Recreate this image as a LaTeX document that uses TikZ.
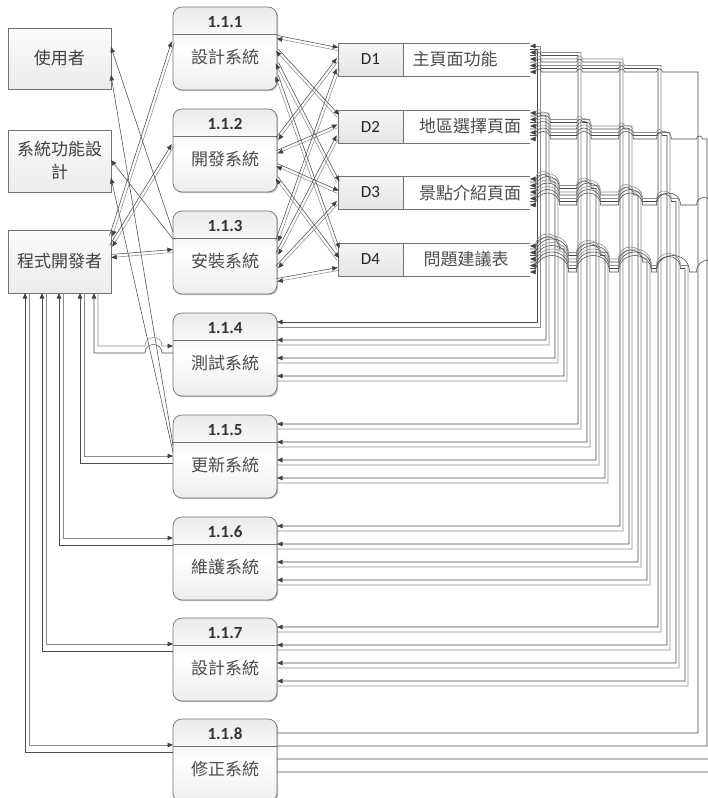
\documentclass[tikz,border=0pt]{standalone}
\usepackage{fontspec}
\setmainfont{Carlito}
\newfontfamily\cjk{Noto Sans CJK TC}
\usetikzlibrary{arrows.meta,calc,shadows}
\begin{document}
\begin{tikzpicture}[x=1pt,y=-1pt,
  >={Triangle[length=5.5pt,width=4.5pt,color=black!75]},
  ln/.style={draw=black!70,line width=0.55pt},
  lnb/.style={draw=black!45,line width=0.55pt},
  shd/.style={drop shadow={shadow xshift=1.2pt,shadow yshift=-1.2pt,opacity=0.25,fill=black}},
  entity/.style={shd,draw=black!55,line width=0.7pt,top color=gray!3,bottom color=gray!15,minimum width=103pt,minimum height=61pt,anchor=north west,inner sep=0pt,outer sep=0pt,align=center,font=\cjk\fontsize{17}{23}\selectfont,text=black!75},
  proc/.style={shd,draw=black!55,line width=0.7pt,rounded corners=9pt,top color=gray!16,bottom color=gray!14,middle color=white,minimum width=104pt,minimum height=83pt,anchor=north west,inner sep=0pt,outer sep=0pt},
  pnum/.style={font=\bfseries\fontsize{17}{17}\selectfont,text=black!80,inner sep=0pt},
  ptxt/.style={font=\cjk\fontsize{17}{17}\selectfont,text=black!70,inner sep=0pt},
  store/.style={minimum width=192pt,minimum height=33pt,anchor=north west,inner sep=0pt,outer sep=0pt},
  sid/.style={draw=black!55,line width=0.7pt,top color=gray!8,bottom color=gray!20,minimum width=65pt,minimum height=33pt,anchor=north west,inner sep=0pt,outer sep=0pt,font=\fontsize{17}{17}\selectfont,text=black!85},
  stxt/.style={font=\cjk\fontsize{17}{17}\selectfont,text=black!70,inner sep=0pt},
  sedge/.style={draw=black!55,line width=0.7pt}
]
\useasboundingbox (0,0) rectangle (708,798);
\clip (0,0) rectangle (708,798);
\fill[white] (0,0) rectangle (708,798);

% external entities
\node[entity] (user) at (8,28) {使用者};
\node[entity,minimum height=62pt] (sys) at (8,130) {系統功能設\\計};
\node[entity,minimum height=63pt] (dev) at (8,230) {程式開發者};

% processes
\foreach \i/\y/\lbl in {1/7/設計系統, 2/109/開發系統, 3/211/安裝系統, 4/313/測試系統, 5/415/更新系統, 6/517/維護系統, 7/618/設計系統, 8/719/修正系統}{
  \node[proc] (p\i) at (173,\y) {};
  \draw[sedge] ($(p\i.north west)+(0,27)$) -- ($(p\i.north east)+(0,27)$);
  \node[pnum] (n\i) at ($(p\i.north)+(0,15)$) {1.1.\i};
  \node[ptxt] (t\i) at ($(p\i.north)+(0,50)$) {\lbl};
}

% data stores
\foreach \j/\y/\lbl/\lx in {1/43/主頁面功能/455, 2/110/地區選擇頁面/470, 3/176/景點介紹頁面/470, 4/243/問題建議表/466}{
  \node[store] (s\j) at (338,\y) {};
  \fill[white] (s\j.north west) rectangle (s\j.south east);
  \node[sid] (d\j) at (s\j.north west) {D\j};
  \draw[sedge] (s\j.north east) -- (s\j.north west) -- (s\j.south west) -- (s\j.south east);
  \node[stxt] (l\j) at (\lx,\y+16.5) {\lbl};
}

% processes 1.1.1-1.1.3 <-> data stores
\foreach \k in {1,2,3}{\foreach \j in {1,...,4}{
  \coordinate (pa) at ($(p\k.north east)+(0,{30+(\j-1)*13})$);
  \coordinate (pb) at ($(s\j.north west)+(0,{6+(\k-1)*10})$);
  \draw[ln,->] ($(pa)!1.5pt!90:(pb)$) -- ($(pb)!1.5pt!-90:(pa)$);
  \draw[lnb,<-] ($(pa)!1.5pt!-90:(pb)$) -- ($(pb)!1.5pt!90:(pa)$);
}}

% developer <-> 1.1.1-1.1.3
\foreach \k/\da/\po in {1/6/35, 2/16/36, 3/26/40}{
  \coordinate (pa) at ($(dev.north east)+(0,\da)$);
  \coordinate (pb) at ($(p\k.north west)+(0,\po)$);
  \draw[ln,->] ($(pa)!1.5pt!90:(pb)$) -- ($(pb)!1.5pt!-90:(pa)$);
  \draw[lnb,<-] ($(pa)!1.5pt!-90:(pb)$) -- ($(pb)!1.5pt!90:(pa)$);
}

% outputs to user / system designer
\draw[ln,->] ($(p3.north west)+(0,21)$) -- ($(user.north east)+(0,19)$);
\draw[ln,->] ($(p3.north west)+(0,28)$) -- ($(sys.north east)+(0,30)$);
\draw[ln,->] ($(p5.north west)+(0,30)$) -- ($(user.north east)+(0,47)$);
\draw[ln,->] ($(p5.north west)+(0,37)$) -- ($(sys.north east)+(0,48)$);

% developer <-> 1.1.4-1.1.8
\draw[lnb,->] ($(dev.south west)+(90,0)$) -- (98,346) -- (145,346) .. controls (145,334.7) and (162,334.7) .. (162,346) -- ($(p4.north west)+(0,33)$);
\draw[ln,<-] ($(dev.south west)+(86,0)$) -- (94,353) -- (145,353) .. controls (145,341.7) and (162,341.7) .. (162,353) -- ($(p4.north west)+(0,40)$);
\foreach \k/\ux/\dd in {5/80/41, 6/59/21, 7/42/26, 8/25/26}{
  \draw[lnb,->] ($(dev.south west)+(\ux-4,0)$) |- ($(p\k.north west)+(0,\dd)$);
  \draw[ln,<-] ($(dev.south west)+(\ux-8,0)$) |- ($(p\k.north west)+(0,\dd+7)$);
}

% data stores <-> 1.1.4-1.1.8 (right side bus with line jumps)
\def\BX{{537,578,620,658,698}}
\def\PT{{313,415,517,618,719}}
\def\ST{{43,110,176,243}}
\foreach \k in {0,...,4}{
 \foreach \j in {0,...,3}{
  \pgfmathtruncatemacro\sj{\j+1}
  \pgfmathtruncatemacro\pk{\k+4}
  \pgfmathsetmacro\vst{\ST[\j]}
  \pgfmathsetmacro\vpt{\PT[\k]}
  \pgfmathsetmacro\vra{\vst+6+\k*6.5}
  \pgfmathsetmacro\vrb{\vra-3}
  \pgfmathsetmacro\vxa{\BX[\k]+\j*9}
  \pgfmathsetmacro\vxb{\vxa+3}
  \gdef\hpa{}\gdef\hpb{}
  \foreach \g in {0,...,\k}{
    \def\dohop{0}
    \pgfmathsetmacro\ga{\BX[\g]-1.5}
    \ifnum\g<\k\relax
      \pgfmathsetmacro\gb{\BX[\g]+\j*9+4.5}\def\dohop{1}
    \else
      \ifnum\j>0\relax
        \pgfmathsetmacro\gb{\BX[\g]+(\j-1)*9+4.5}\def\dohop{1}
      \fi
    \fi
    \if1\dohop
      \pgfmathsetmacro\gha{\vra-(\gb-\ga)*2/3}
      \pgfmathsetmacro\ghb{\vrb-(\gb-\ga)*2/3}
      \xdef\hpa{\hpa -- (\ga,\vra) .. controls (\ga,\gha) and (\gb,\gha) .. (\gb,\vra)}
      \xdef\hpb{\hpb -- (\ga,\vrb) .. controls (\ga,\ghb) and (\gb,\ghb) .. (\gb,\vrb)}
    \fi
  }
  \ifnum\k<4\relax
    \pgfmathsetmacro\vpa{9+\j*18}
    \pgfmathsetmacro\vpb{\vpa+5}
    \draw[ln,->] ($(s\sj.north east)+(0,\vra-\vst)$) \hpa -- (\vxa,\vra) -- (\vxa,\vpt+\vpa) -- ($(p\pk.north east)+(0,\vpa)$);
    \draw[lnb,<-] ($(s\sj.north east)+(0,\vrb-\vst)$) \hpb -- (\vxb,\vrb) -- (\vxb,\vpt+\vpb) -- ($(p\pk.north east)+(0,\vpb)$);
  \else
    \pgfmathsetmacro\vpa{14+\j*13}
    \draw[ln,<-] ($(s\sj.north east)+(0,\vrb-\vst)$) \hpb -- (\vxa,\vrb) -- (\vxa,\vpt+\vpa) -- ($(p\pk.north east)+(0,\vpa)$);
  \fi
 }
}
\end{tikzpicture}
\end{document}
